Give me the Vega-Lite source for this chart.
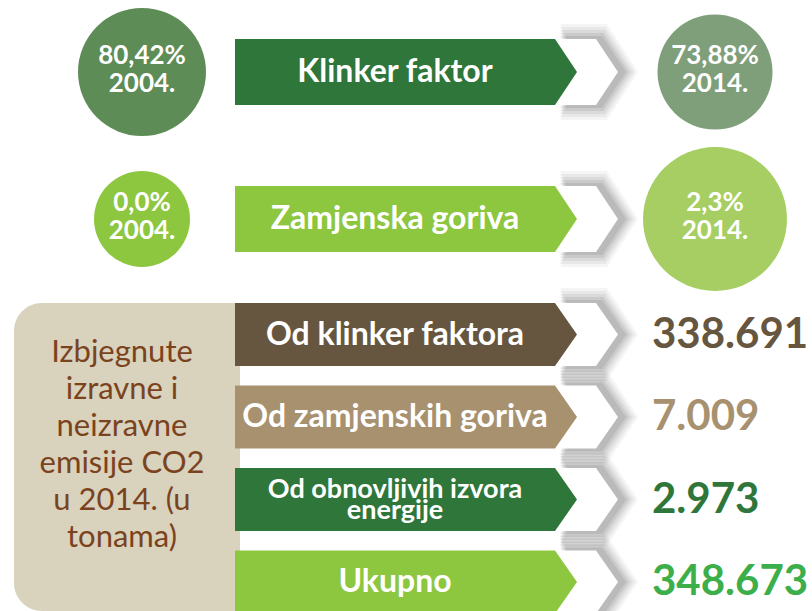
{
  "$schema": "https://vega.github.io/schema/vega-lite/v6.json",
  "width": 812,
  "height": 611,
  "autosize": {"type": "none"},
  "padding": 0,
  "background": "#ffffff",
  "config": {
    "view": {"stroke": null},
    "font": "Lato",
    "locale": {"number": {"decimal": ",", "thousands": ".", "grouping": [3], "currency": ["", ""]}}
  },
  "datasets": {
    "pokazatelji": [
      {"pokazatelj": "Klinker faktor"},
      {"pokazatelj": "Zamjenska goriva"}
    ],
    "udjeli": [
      {"pokazatelj": "Klinker faktor", "godina": "2004.", "udio": "80,42%", "natpis": "80,42%\n2004."},
      {"pokazatelj": "Klinker faktor", "godina": "2014.", "udio": "73,88%", "natpis": "73,88%\n2014."},
      {"pokazatelj": "Zamjenska goriva", "godina": "2004.", "udio": "0,0%", "natpis": "0,0%\n2004."},
      {"pokazatelj": "Zamjenska goriva", "godina": "2014.", "udio": "2,3%", "natpis": "2,3%\n2014."}
    ],
    "emisije": [
      {"izvor": "Od klinker faktora", "tone": 338691},
      {"izvor": "Od zamjenskih goriva", "tone": 7009},
      {"izvor": "Od obnovljivih izvora\nenergije", "tone": 2973},
      {"izvor": "Ukupno", "tone": 348673}
    ],
    "opis": [
      {"tekst": "Izbjegnute\nizravne i\nneizravne\nemisije CO2\nu 2014. (u\ntonama)"}
    ]
  },
  "layer": [
    {
      "layer": [
        {
          "data": {"name": "udjeli"},
          "transform": [{"filter": "datum.godina === '2004.' && datum.pokazatelj === 'Klinker faktor'"}],
          "mark": {"type": "circle", "size": 16384, "color": "#5e8c56", "opacity": 1},
          "encoding": {
            "x": {"field": "godina", "type": "nominal", "axis": null, "scale": {"type": "point", "domain": ["2004.", "naziv", "2014."], "range": [142, 715], "padding": 0}},
            "y": {"field": "pokazatelj", "type": "nominal", "axis": null, "scale": {"type": "point", "domain": ["Klinker faktor", "Zamjenska goriva"], "range": [72, 219], "padding": 0}}
          }
        },
        {
          "data": {"name": "udjeli"},
          "transform": [{"filter": "datum.godina === '2014.' && datum.pokazatelj === 'Klinker faktor'"}],
          "mark": {"type": "circle", "size": 13225, "color": "#7f9e7a", "opacity": 1},
          "encoding": {
            "x": {"field": "godina", "type": "nominal", "axis": null},
            "y": {"field": "pokazatelj", "type": "nominal", "axis": null}
          }
        },
        {
          "data": {"name": "udjeli"},
          "transform": [{"filter": "datum.godina === '2004.' && datum.pokazatelj === 'Zamjenska goriva'"}],
          "mark": {"type": "circle", "size": 9216, "color": "#8dc63f", "opacity": 1},
          "encoding": {
            "x": {"field": "godina", "type": "nominal", "axis": null},
            "y": {"field": "pokazatelj", "type": "nominal", "axis": null}
          }
        },
        {
          "data": {"name": "udjeli"},
          "transform": [{"filter": "datum.godina === '2014.' && datum.pokazatelj === 'Zamjenska goriva'"}],
          "mark": {"type": "circle", "size": 20736, "color": "#a6ce63", "opacity": 1},
          "encoding": {
            "x": {"field": "godina", "type": "nominal", "axis": null},
            "y": {"field": "pokazatelj", "type": "nominal", "axis": null}
          }
        },
        {
          "data": {"name": "pokazatelji"},
          "mark": {"type": "point", "shape": "M1.315,-0.48L1.785,-0.48L2.095,0L1.785,0.48L1.315,0.48L1.535,0Z", "size": 40000, "filled": true, "color": "#000000", "opacity": 0.04, "strokeWidth": 0},
          "encoding": {
            "x": {"datum": "naziv", "type": "nominal", "axis": null},
            "y": {"field": "pokazatelj", "type": "nominal", "axis": null}
          }
        },
        {
          "data": {"name": "pokazatelji"},
          "mark": {"type": "point", "shape": "M1.315,-0.45L1.773,-0.45L2.065,0L1.773,0.45L1.315,0.45L1.535,0Z", "size": 40000, "filled": true, "color": "#000000", "opacity": 0.05, "strokeWidth": 0},
          "encoding": {
            "x": {"datum": "naziv", "type": "nominal", "axis": null},
            "y": {"field": "pokazatelj", "type": "nominal", "axis": null}
          }
        },
        {
          "data": {"name": "pokazatelji"},
          "mark": {"type": "point", "shape": "M1.315,-0.42L1.761,-0.42L2.035,0L1.761,0.42L1.315,0.42L1.535,0Z", "size": 40000, "filled": true, "color": "#000000", "opacity": 0.06, "strokeWidth": 0},
          "encoding": {
            "x": {"datum": "naziv", "type": "nominal", "axis": null},
            "y": {"field": "pokazatelj", "type": "nominal", "axis": null}
          }
        },
        {
          "data": {"name": "pokazatelji"},
          "mark": {"type": "point", "shape": "M1.315,-0.39L1.749,-0.39L2.005,0L1.749,0.39L1.315,0.39L1.535,0Z", "size": 40000, "filled": true, "color": "#000000", "opacity": 0.07, "strokeWidth": 0},
          "encoding": {
            "x": {"datum": "naziv", "type": "nominal", "axis": null},
            "y": {"field": "pokazatelj", "type": "nominal", "axis": null}
          }
        },
        {
          "data": {"name": "pokazatelji"},
          "mark": {"type": "point", "shape": "M1.315,-0.36L1.737,-0.36L1.975,0L1.737,0.36L1.315,0.36L1.535,0Z", "size": 40000, "filled": true, "color": "#000000", "opacity": 0.08, "strokeWidth": 0},
          "encoding": {
            "x": {"datum": "naziv", "type": "nominal", "axis": null},
            "y": {"field": "pokazatelj", "type": "nominal", "axis": null}
          }
        },
        {
          "data": {"name": "pokazatelji"},
          "mark": {"type": "point", "shape": "M1.265,-0.33L1.675,-0.33L1.895,0L1.675,0.33L1.265,0.33L1.485,0Z", "size": 40000, "filled": true, "color": "#ffffff", "opacity": 1, "strokeWidth": 0},
          "encoding": {
            "x": {"datum": "naziv", "type": "nominal", "axis": null},
            "y": {"field": "pokazatelj", "type": "nominal", "axis": null}
          }
        },
        {
          "data": {"name": "pokazatelji"},
          "mark": {"type": "point", "shape": "M-1.935,-0.33L1.265,-0.33L1.485,0L1.265,0.33L-1.935,0.33Z", "size": 40000, "filled": true, "opacity": 1, "strokeWidth": 0},
          "encoding": {
            "x": {"datum": "naziv", "type": "nominal", "axis": null},
            "y": {"field": "pokazatelj", "type": "nominal", "axis": null},
            "color": {"field": "pokazatelj", "type": "nominal", "legend": null, "scale": {"domain": ["Klinker faktor", "Zamjenska goriva"], "range": ["#2e7639", "#8dc63f"]}}
          }
        },
        {
          "data": {"name": "pokazatelji"},
          "mark": {"type": "text", "color": "#ffffff", "fontSize": 32, "fontWeight": "bold", "align": "center", "baseline": "middle", "dx": -33.5},
          "encoding": {
            "x": {"datum": "naziv", "type": "nominal", "axis": null},
            "y": {"field": "pokazatelj", "type": "nominal", "axis": null},
            "text": {"field": "pokazatelj", "type": "nominal"}
          }
        },
        {
          "data": {"name": "udjeli"},
          "mark": {"type": "text", "color": "#ffffff", "fontSize": 26, "fontWeight": "bold", "align": "center", "baseline": "alphabetic", "lineBreak": "\n", "lineHeight": 28, "dy": -8},
          "encoding": {
            "x": {"field": "godina", "type": "nominal", "axis": null},
            "y": {"field": "pokazatelj", "type": "nominal", "axis": null},
            "text": {"field": "natpis", "type": "nominal"}
          }
        }
      ],
      "resolve": {"scale": {"color": "independent"}}
    },
    {
      "layer": [
        {
          "data": {"name": "opis"},
          "mark": {"type": "point", "shape": "M-1,-0.315L0.98,-0.315L0.98,2.765L-1,2.765C-1.155,2.765 -1.28,2.64 -1.28,2.485L-1.28,-0.035C-1.28,-0.19 -1.155,-0.315 -1,-0.315Z", "size": 40000, "filled": true, "color": "#d9d2bd", "opacity": 1, "strokeWidth": 0},
          "encoding": {
            "x": {"datum": "2004.", "type": "nominal", "axis": null},
            "y": {"datum": "Od klinker faktora", "type": "nominal", "axis": null, "scale": {"type": "point", "domain": ["Od klinker faktora", "Od zamjenskih goriva", "Od obnovljivih izvora\nenergije", "Ukupno"], "range": [334.5, 582], "padding": 0}}
          }
        },
        {
          "data": {"name": "opis"},
          "mark": {"type": "text", "color": "#7b431d", "fontSize": 31, "lineBreak": "\n", "lineHeight": 37, "align": "center", "baseline": "top", "dx": -20, "dy": 3},
          "encoding": {
            "x": {"datum": "2004.", "type": "nominal", "axis": null},
            "y": {"datum": "Od klinker faktora", "type": "nominal", "axis": null},
            "text": {"field": "tekst", "type": "nominal"}
          }
        },
        {
          "data": {"name": "emisije"},
          "mark": {"type": "point", "shape": "M1.315,-0.465L1.785,-0.465L2.095,0L1.785,0.465L1.315,0.465L1.535,0Z", "size": 40000, "filled": true, "color": "#000000", "opacity": 0.04, "strokeWidth": 0},
          "encoding": {
            "x": {"datum": "naziv", "type": "nominal", "axis": null},
            "y": {"field": "izvor", "type": "nominal", "axis": null}
          }
        },
        {
          "data": {"name": "emisije"},
          "mark": {"type": "point", "shape": "M1.315,-0.435L1.773,-0.435L2.065,0L1.773,0.435L1.315,0.435L1.535,0Z", "size": 40000, "filled": true, "color": "#000000", "opacity": 0.05, "strokeWidth": 0},
          "encoding": {
            "x": {"datum": "naziv", "type": "nominal", "axis": null},
            "y": {"field": "izvor", "type": "nominal", "axis": null}
          }
        },
        {
          "data": {"name": "emisije"},
          "mark": {"type": "point", "shape": "M1.315,-0.405L1.761,-0.405L2.035,0L1.761,0.405L1.315,0.405L1.535,0Z", "size": 40000, "filled": true, "color": "#000000", "opacity": 0.06, "strokeWidth": 0},
          "encoding": {
            "x": {"datum": "naziv", "type": "nominal", "axis": null},
            "y": {"field": "izvor", "type": "nominal", "axis": null}
          }
        },
        {
          "data": {"name": "emisije"},
          "mark": {"type": "point", "shape": "M1.315,-0.375L1.749,-0.375L2.005,0L1.749,0.375L1.315,0.375L1.535,0Z", "size": 40000, "filled": true, "color": "#000000", "opacity": 0.07, "strokeWidth": 0},
          "encoding": {
            "x": {"datum": "naziv", "type": "nominal", "axis": null},
            "y": {"field": "izvor", "type": "nominal", "axis": null}
          }
        },
        {
          "data": {"name": "emisije"},
          "mark": {"type": "point", "shape": "M1.315,-0.345L1.737,-0.345L1.975,0L1.737,0.345L1.315,0.345L1.535,0Z", "size": 40000, "filled": true, "color": "#000000", "opacity": 0.08, "strokeWidth": 0},
          "encoding": {
            "x": {"datum": "naziv", "type": "nominal", "axis": null},
            "y": {"field": "izvor", "type": "nominal", "axis": null}
          }
        },
        {
          "data": {"name": "emisije"},
          "mark": {"type": "point", "shape": "M1.265,-0.315L1.675,-0.315L1.895,0L1.675,0.315L1.265,0.315L1.485,0Z", "size": 40000, "filled": true, "color": "#ffffff", "opacity": 1, "strokeWidth": 0},
          "encoding": {
            "x": {"datum": "naziv", "type": "nominal", "axis": null},
            "y": {"field": "izvor", "type": "nominal", "axis": null}
          }
        },
        {
          "data": {"name": "emisije"},
          "mark": {"type": "point", "shape": "M-1.935,-0.315L1.265,-0.315L1.485,0L1.265,0.315L-1.935,0.315Z", "size": 40000, "filled": true, "opacity": 1, "strokeWidth": 0},
          "encoding": {
            "x": {"datum": "naziv", "type": "nominal", "axis": null},
            "y": {"field": "izvor", "type": "nominal", "axis": null},
            "color": {"field": "izvor", "type": "nominal", "legend": null, "scale": {"domain": ["Od klinker faktora", "Od zamjenskih goriva", "Od obnovljivih izvora\nenergije", "Ukupno"], "range": ["#665640", "#a8916f", "#2e7639", "#8dc63f"]}}
          }
        },
        {
          "data": {"name": "emisije"},
          "transform": [{"filter": "datum.tone !== 2973"}],
          "mark": {"type": "text", "color": "#ffffff", "fontSize": 32, "fontWeight": "bold", "align": "center", "baseline": "middle", "dx": -33.5},
          "encoding": {
            "x": {"datum": "naziv", "type": "nominal", "axis": null},
            "y": {"field": "izvor", "type": "nominal", "axis": null},
            "text": {"field": "izvor", "type": "nominal"}
          }
        },
        {
          "data": {"name": "emisije"},
          "transform": [{"filter": "datum.tone === 2973"}],
          "mark": {"type": "text", "color": "#ffffff", "fontSize": 27, "fontWeight": "bold", "align": "center", "baseline": "middle", "lineBreak": "\n", "lineHeight": 21, "dx": -33.5, "dy": -9.5},
          "encoding": {
            "x": {"datum": "naziv", "type": "nominal", "axis": null},
            "y": {"field": "izvor", "type": "nominal", "axis": null},
            "text": {"field": "izvor", "type": "nominal"}
          }
        },
        {
          "data": {"name": "emisije"},
          "mark": {"type": "text", "fontSize": 42, "fontWeight": "bold", "align": "left", "baseline": "middle", "dx": -63},
          "encoding": {
            "x": {"datum": "2014.", "type": "nominal", "axis": null},
            "y": {"field": "izvor", "type": "nominal", "axis": null},
            "text": {"field": "tone", "type": "quantitative", "format": ",d"},
            "color": {"field": "izvor", "type": "nominal", "legend": null, "scale": {"domain": ["Od klinker faktora", "Od zamjenskih goriva", "Od obnovljivih izvora\nenergije", "Ukupno"], "range": ["#665640", "#a8916f", "#2e7639", "#3cae4a"]}}
          }
        }
      ],
      "resolve": {"scale": {"color": "independent"}}
    }
  ],
  "resolve": {"scale": {"y": "independent", "color": "independent"}}
}
